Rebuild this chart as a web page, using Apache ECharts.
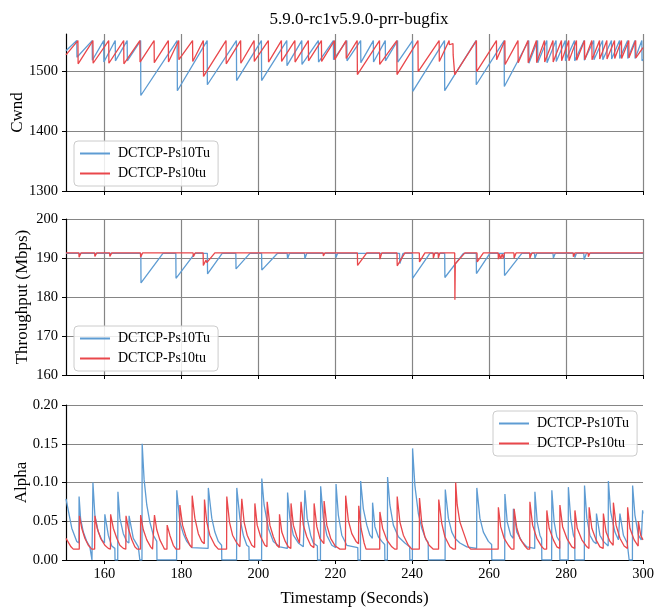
<!DOCTYPE html>
<html><head><meta charset="utf-8">
<script src="https://cdn.jsdelivr.net/npm/echarts@6/dist/echarts.min.js"></script>
<style>html,body{margin:0;padding:0;background:#fff}#c{width:664px;height:615px}</style>
</head><body><div id="c"></div>
<script>
const chartTitle = '5.9.0-rc1v5.9.0-prr-bugfix';
const seriesNames = ['DCTCP-Ps10Tu', 'DCTCP-Ps10tu'];
const xTicks = [160, 180, 200, 220, 240, 260, 280, 300];
const cwndTicks = [1300, 1400, 1500];
const tputTicks = [160, 170, 180, 190, 200];
const alphaTicks = [0, 0.05, 0.10, 0.15, 0.20];

const cwndTu = [[150,1535],[152.8,1552],[152.85,1524],[156.8,1552],[156.85,1519],[159.8,1552],[159.85,1516],[162.8,1552],[162.85,1518],[165.9,1552],[165.95,1518],[169.4,1552],[169.45,1460],[178.9,1552],[178.95,1468],[186.7,1552],[186.75,1478],[194.3,1552],[194.35,1485],[200.8,1552],[200.85,1485],[207.4,1552],[207.45,1510],[211.3,1552],[211.35,1512],[215.6,1552],[215.65,1516],[219.5,1552],[219.55,1520],[223.0,1552],[223.05,1518],[226.6,1552],[226.65,1515],[229.9,1552],[229.95,1516],[233.0,1552],[233.05,1518],[236.2,1552],[236.25,1516],[240.1,1552],[240.15,1467],[248.4,1552],[248.45,1468],[256.6,1552],[256.65,1478],[263.9,1552],[263.95,1475],[270.3,1552],[270.35,1514],[272.6,1552],[272.65,1515],[275.0,1552],[275.05,1515],[277.4,1552],[277.45,1517],[279.8,1552],[279.85,1518],[282.2,1552],[282.25,1518],[284.7,1552],[284.75,1519],[287.2,1552],[287.25,1520],[289.5,1552],[289.55,1520],[291.8,1552],[291.85,1521],[293.9,1552],[293.95,1522],[296.0,1552],[296.05,1522],[297.9,1552],[297.95,1522],[299.7,1552],[299.75,1518],[300,1521]];

const cwndtu = [[150,1528],[153.1,1552],[153.15,1513],[157.0,1552],[157.05,1514],[161.1,1552],[161.15,1514],[165.0,1552],[165.05,1513],[169.2,1552],[169.25,1516],[172.9,1552],[172.95,1515],[176.6,1552],[176.65,1516],[179.3,1552],[179.35,1520],[182.9,1552],[182.95,1517],[185.7,1552],[185.75,1492],[191.6,1552],[191.65,1513],[195.4,1552],[195.45,1514],[198.9,1552],[198.95,1517],[202.6,1552],[202.65,1516],[206.0,1552],[206.05,1517],[209.5,1552],[209.55,1516],[213.0,1552],[213.05,1518],[216.4,1552],[216.45,1517],[219.8,1552],[219.85,1520],[222.8,1552],[222.85,1522],[225.7,1552],[225.75,1495],[231.5,1552],[231.55,1512],[236.0,1552],[236.05,1495],[241.5,1552],[241.55,1500],[247.0,1552],[247.05,1517],[249.6,1552],[249.65,1545],[250.6,1547],[250.65,1528],[251.0,1526],[251.05,1495],[256.7,1552],[256.75,1500],[261.9,1552],[261.95,1520],[264.1,1552],[264.15,1512],[267.5,1552],[267.55,1515],[270.1,1552],[270.15,1515],[272.3,1552],[272.35,1515],[274.4,1552],[274.45,1516],[276.6,1552],[276.65,1516],[278.8,1552],[278.85,1518],[280.7,1552],[280.75,1518],[282.7,1552],[282.75,1519],[284.8,1552],[284.85,1520],[286.7,1552],[286.75,1520],[288.7,1552],[288.75,1521],[290.6,1552],[290.65,1521],[292.6,1552],[292.65,1522],[294.4,1552],[294.45,1522],[296.3,1552],[296.35,1523],[298.1,1552],[298.15,1523],[300,1540]];

const tputTu = [[150,191.2],[169.45,191.2],[169.5,183.6],[175.2,191.2],[178.55,191.2],[178.6,184.8],[183.5,191.2],[186.75,191.2],[186.8,185.9],[190.6,191.2],[194.15,191.2],[194.2,187.2],[197.8,191.2],[200.85,191.2],[200.9,186.9],[205.0,191.2],[207.5,191.2],[207.6,189.8],[208.1,191.2],[212.0,191.2],[212.1,189.8],[212.6,191.2],[220.1,191.2],[220.2,190.1],[220.6,191.2],[236.7,191.2],[236.8,188.6],[237.6,191.2],[240.05,191.2],[240.1,184.8],[244.6,191.2],[248.45,191.2],[248.5,185.0],[253.3,191.2],[256.65,191.2],[256.7,186.0],[260.2,191.2],[263.95,191.2],[264.0,185.5],[268.5,191.2],[271.8,191.2],[271.9,189.9],[272.4,191.2],[276.6,191.2],[276.7,190.0],[277.2,191.2],[282.2,191.2],[282.3,190.1],[282.7,191.2],[284.6,191.2],[284.7,189.6],[285.3,191.2],[300,191.2]];

const tputtu = [[150,191.3],[153.35,191.3],[153.4,190.2],[153.9,191.3],[157.45,191.3],[157.5,190.4],[158.0,191.3],[161.35,191.3],[161.4,190.4],[161.9,191.3],[169.35,191.3],[169.4,190.2],[169.9,191.3],[183.05,191.3],[183.1,190.3],[183.6,191.3],[185.65,191.3],[185.7,188.1],[186.4,189.5],[186.6,188.8],[188.7,191.3],[216.85,191.3],[216.9,190.5],[217.3,191.3],[225.75,191.3],[225.8,188.1],[228.2,191.3],[231.55,191.3],[231.6,189.7],[232.1,191.3],[236.05,191.3],[236.1,188.0],[238.1,191.3],[241.85,191.3],[241.9,189.0],[243.3,191.3],[245.45,191.3],[245.5,190.0],[245.9,191.3],[246.75,191.3],[246.8,190.0],[247.2,191.3],[251.05,191.3],[251.1,179.3],[251.2,188.5],[253.7,191.3],[256.85,191.3],[256.9,189.0],[258.5,191.3],[262.35,191.3],[262.4,189.7],[262.7,191.0],[263.0,189.8],[263.4,191.0],[263.7,189.9],[264.0,191.3],[266.45,191.3],[266.5,190.0],[267.0,191.3],[270.55,191.3],[270.6,190.0],[271.1,191.3],[281.85,191.3],[281.9,190.3],[282.3,191.3],[285.75,191.3],[285.8,190.3],[286.2,191.3],[300,191.3]];

const alphaTu = [[150,0.079],[151.5,0.041],[152.8,0.024],[153.35,0.022],[153.4,0.082],[153.8,0.053],[154.5,0.036],[155.4,0.024],[156.2,0.017],[156.7,0.016],[156.75,0],[156.95,0],[157.0,0.100],[157.5,0.058],[158.4,0.036],[159.3,0.026],[160.0,0.022],[160.1,0.059],[161.0,0.032],[161.9,0.018],[162.7,0.015],[162.75,0],[163.45,0],[163.5,0.088],[164.0,0.054],[164.9,0.034],[165.8,0.024],[166.35,0.022],[166.4,0.057],[167.5,0.028],[168.8,0.017],[169.15,0.016],[169.2,0],[169.75,0],[169.8,0.150],[170.3,0.104],[171.0,0.071],[171.8,0.049],[172.7,0.032],[173.6,0.024],[173.65,0],[178.75,0],[178.8,0.090],[179.6,0.049],[180.5,0.034],[181.4,0.024],[182.7,0.016],[186.95,0.015],[187.0,0.093],[187.9,0.054],[188.7,0.036],[189.6,0.024],[190.45,0.019],[190.5,0],[194.35,0],[194.4,0.093],[195.2,0.054],[196.1,0.032],[197.0,0.019],[197.55,0.017],[197.6,0],[200.85,0],[200.9,0.105],[201.5,0.071],[202.6,0.041],[203.9,0.024],[205.6,0.017],[207.55,0.015],[207.6,0.087],[208.2,0.054],[209.1,0.032],[210.4,0.022],[211.7,0.017],[212.05,0.016],[212.1,0.090],[212.7,0.054],[213.6,0.032],[214.3,0.022],[215.35,0.018],[215.4,0],[216.15,0],[216.2,0.095],[216.9,0.054],[217.8,0.032],[219.1,0.019],[220.15,0.016],[220.2,0.098],[220.8,0.058],[221.7,0.032],[223.0,0.019],[225.85,0.016],[225.9,0],[226.55,0],[226.6,0.102],[227.3,0.066],[228.2,0.045],[229.0,0.032],[229.65,0.028],[229.7,0.074],[230.3,0.043],[231.2,0.030],[232.1,0.024],[232.85,0.020],[232.9,0],[233.55,0],[233.6,0.107],[234.2,0.071],[235.1,0.045],[236.4,0.030],[238.1,0.022],[239.35,0.017],[239.4,0],[240.05,0],[240.1,0.144],[240.7,0.096],[241.6,0.060],[242.5,0.041],[243.6,0.026],[244.15,0.023],[244.2,0],[248.55,0],[248.6,0.091],[249.4,0.054],[250.3,0.036],[251.1,0.028],[252.4,0.022],[254.2,0.017],[256.75,0.015],[256.8,0.093],[257.6,0.054],[258.5,0.036],[259.8,0.024],[260.65,0.020],[260.7,0],[264.05,0],[264.1,0.085],[264.7,0.049],[265.6,0.032],[266.25,0.028],[266.3,0.066],[267.2,0.036],[268.5,0.024],[269.8,0.017],[271.85,0.015],[271.9,0.088],[272.5,0.049],[273.2,0.032],[273.65,0.027],[273.7,0],[276.25,0],[276.3,0.090],[276.9,0.049],[277.6,0.030],[278.35,0.024],[278.4,0],[280.55,0],[280.6,0.094],[281.2,0.054],[281.9,0.032],[282.25,0.028],[282.3,0],[284.75,0],[284.8,0.096],[285.4,0.054],[286.2,0.032],[287.1,0.024],[287.85,0.021],[287.9,0.060],[288.8,0.032],[289.7,0.024],[290.95,0.018],[291.0,0.102],[291.6,0.062],[292.7,0.036],[293.6,0.026],[293.95,0.024],[294.0,0.060],[294.9,0.032],[295.9,0.022],[296.35,0.020],[296.4,0],[297.25,0],[297.3,0.096],[297.9,0.058],[298.8,0.032],[299.55,0.026],[299.9,0.064],[300,0.060]];

const alphatu = [[150,0.028],[151.3,0.017],[151.9,0.014],[153.45,0.014],[153.5,0.057],[154.1,0.041],[154.9,0.028],[155.8,0.019],[156.7,0.014],[157.45,0.014],[157.5,0.057],[158.1,0.041],[159.0,0.028],[160.1,0.019],[161.0,0.015],[161.55,0.014],[161.6,0.059],[162.3,0.041],[163.2,0.028],[164.0,0.019],[164.9,0.015],[165.55,0.014],[165.6,0.057],[166.2,0.041],[167.1,0.026],[167.9,0.017],[168.5,0.014],[169.35,0.014],[169.4,0.058],[170.1,0.039],[171.0,0.026],[172.0,0.017],[172.5,0.014],[172.95,0.014],[173.0,0.058],[173.6,0.039],[174.4,0.026],[175.3,0.017],[175.6,0.014],[176.25,0.014],[176.3,0.045],[177.0,0.032],[177.9,0.019],[178.6,0.014],[179.55,0.014],[179.6,0.071],[180.3,0.045],[181.2,0.030],[182.2,0.019],[182.75,0.016],[182.8,0.083],[183.5,0.054],[184.4,0.034],[185.3,0.024],[185.95,0.021],[186.0,0.078],[186.6,0.049],[187.4,0.032],[188.7,0.019],[189.6,0.014],[191.75,0.014],[191.8,0.082],[192.5,0.049],[193.3,0.032],[194.4,0.022],[195.2,0.017],[195.65,0.016],[195.7,0.079],[196.3,0.049],[197.1,0.032],[198.3,0.019],[199.05,0.016],[199.1,0.073],[199.7,0.045],[200.6,0.030],[201.7,0.019],[202.25,0.017],[202.3,0.075],[203.0,0.045],[203.9,0.030],[204.8,0.019],[205.45,0.016],[205.5,0.059],[206.1,0.036],[207.0,0.024],[207.8,0.017],[208.45,0.015],[208.5,0.073],[209.1,0.045],[210.0,0.030],[210.7,0.022],[211.05,0.020],[211.1,0.075],[211.7,0.045],[212.6,0.030],[213.6,0.019],[214.45,0.016],[214.5,0.073],[215.2,0.043],[216.0,0.028],[217.05,0.021],[217.1,0.076],[217.8,0.045],[218.8,0.028],[220.0,0.018],[221.2,0.014],[222.65,0.014],[222.7,0.083],[223.4,0.051],[224.3,0.034],[225.4,0.024],[226.05,0.021],[226.1,0.070],[226.7,0.041],[227.5,0.022],[228.0,0.014],[231.55,0.014],[231.6,0.062],[232.3,0.041],[233.4,0.026],[234.7,0.017],[235.5,0.014],[236.05,0.014],[236.1,0.082],[236.8,0.049],[237.7,0.032],[239.0,0.019],[239.9,0.014],[241.85,0.014],[241.9,0.080],[242.5,0.047],[243.3,0.030],[244.4,0.019],[245.5,0.014],[246.85,0.014],[246.9,0.078],[247.7,0.047],[248.5,0.030],[249.8,0.017],[250.7,0.014],[251.25,0.014],[251.3,0.100],[251.7,0.071],[252.4,0.049],[253.3,0.036],[254.0,0.026],[254.6,0.017],[255.2,0.014],[262.35,0.014],[262.4,0.068],[263.0,0.043],[263.9,0.028],[265.0,0.019],[265.8,0.014],[266.45,0.014],[266.5,0.066],[267.2,0.041],[268.0,0.028],[269.3,0.018],[270.0,0.014],[270.55,0.014],[270.6,0.075],[271.3,0.045],[272.4,0.028],[273.7,0.017],[274.3,0.014],[274.95,0.014],[275.0,0.064],[275.6,0.041],[276.7,0.026],[277.6,0.017],[278.35,0.015],[278.4,0.071],[279.1,0.043],[280.2,0.028],[281.5,0.017],[282.25,0.015],[282.3,0.064],[282.9,0.041],[284.1,0.026],[285.4,0.017],[285.95,0.015],[286.0,0.068],[286.7,0.041],[287.8,0.026],[288.8,0.017],[289.65,0.015],[289.7,0.060],[290.4,0.036],[291.4,0.024],[292.25,0.019],[292.3,0.074],[293.0,0.045],[294.0,0.028],[295.1,0.018],[295.95,0.015],[296.0,0.068],[296.6,0.041],[297.7,0.026],[298.75,0.018],[298.8,0.050],[299.4,0.032],[300,0.026]];

const FONT = '"Liberation Serif", "DejaVu Serif", serif';
const BLUE = '#5e9cd3';
const RED = '#e9474b';
const GRID_COLOR = '#858585';

const chart = echarts.init(document.getElementById('c'), null, {renderer: 'canvas'});

const grids = [
  {left: 66, top: 34, width: 577, height: 157, containLabel: false, outerBoundsMode: 'none'},
  {left: 66, top: 219, width: 577, height: 156, containLabel: false, outerBoundsMode: 'none'},
  {left: 66, top: 405, width: 577, height: 155, containLabel: false, outerBoundsMode: 'none'}
];

function mkX(i) {
  return {
    type: 'value', gridIndex: i, min: 150, max: 300,
    axisLine: {show: true, onZero: false, lineStyle: {color: '#000', width: 1.2}},
    axisTick: {show: true, customValues: xTicks, length: 4, lineStyle: {color: '#000', width: 1}},
    axisLabel: {show: i === 2, customValues: xTicks, fontFamily: FONT, fontSize: 14.5, color: '#000', margin: 7},
    splitLine: {show: i < 2, lineStyle: {color: GRID_COLOR, width: 1.2}},
    name: i === 2 ? 'Timestamp (Seconds)' : '',
    nameLocation: 'middle', nameGap: 30, nameMoveOverlap: false,
    nameTextStyle: {fontFamily: FONT, fontSize: 17, color: '#000'}
  };
}

function mkY(i, min, max, ticks, name, gap, fmt) {
  return {
    type: 'value', gridIndex: i, min: min, max: max,
    axisLine: {show: true, onZero: false, lineStyle: {color: '#000', width: 1.2}},
    axisTick: {show: true, customValues: ticks, length: 4, lineStyle: {color: '#000', width: 1}},
    axisLabel: {customValues: ticks, fontFamily: FONT, fontSize: 14.5, color: '#000', margin: 8, formatter: fmt},
    splitLine: {show: true, lineStyle: {color: GRID_COLOR, width: 1.2}},
    name: name, nameLocation: 'middle', nameGap: gap, nameMoveOverlap: false,
    nameTextStyle: {fontFamily: FONT, fontSize: 17, color: '#000'}
  };
}

function mkLegend(left, top) {
  return {
    data: seriesNames, orient: 'vertical', left: left, top: top,
    icon: 'rect', itemWidth: 30, itemHeight: 2, itemGap: 5,
    padding: [5, 8, 5, 6],
    borderColor: '#cccccc', borderWidth: 1, borderRadius: 4,
    backgroundColor: 'rgba(255,255,255,0.85)',
    textStyle: {fontFamily: FONT, fontSize: 14, color: '#000', padding: [0, 0, 0, 3], lineHeight: 15}
  };
}

function mkSeries(name, data, color, i) {
  return {
    name: name, type: 'line', data: data, xAxisIndex: i, yAxisIndex: i,
    symbol: 'none', showSymbol: false,
    lineStyle: {color: color, width: 1.3},
    itemStyle: {color: color},
    emphasis: {disabled: true}
  };
}

chart.setOption({
  animation: false,
  backgroundColor: '#fff',
  title: {
    text: chartTitle, left: 354, top: 6, textAlign: 'center',
    textStyle: {fontFamily: FONT, fontSize: 17, fontWeight: 'normal', color: '#000'}
  },
  grid: grids,
  xAxis: [mkX(0), mkX(1), mkX(2)],
  yAxis: [
    mkY(0, 1300, 1563, cwndTicks, 'Cwnd', 40, function (v) { return String(Math.round(v)); }),
    mkY(1, 160, 200, tputTicks, 'Throughput (Mbps)', 35, function (v) { return String(Math.round(v)); }),
    mkY(2, 0, 0.2, alphaTicks, 'Alpha', 36, function (v) { return v.toFixed(2); })
  ],
  legend: [mkLegend(74, 141), mkLegend(74, 326), mkLegend(493, 411)],
  series: [
    mkSeries(seriesNames[0], cwndTu, BLUE, 0),
    mkSeries(seriesNames[1], cwndtu, RED, 0),
    mkSeries(seriesNames[0], tputTu, BLUE, 1),
    mkSeries(seriesNames[1], tputtu, RED, 1),
    mkSeries(seriesNames[0], alphaTu, BLUE, 2),
    mkSeries(seriesNames[1], alphatu, RED, 2)
  ]
});
</script>
</body></html>
